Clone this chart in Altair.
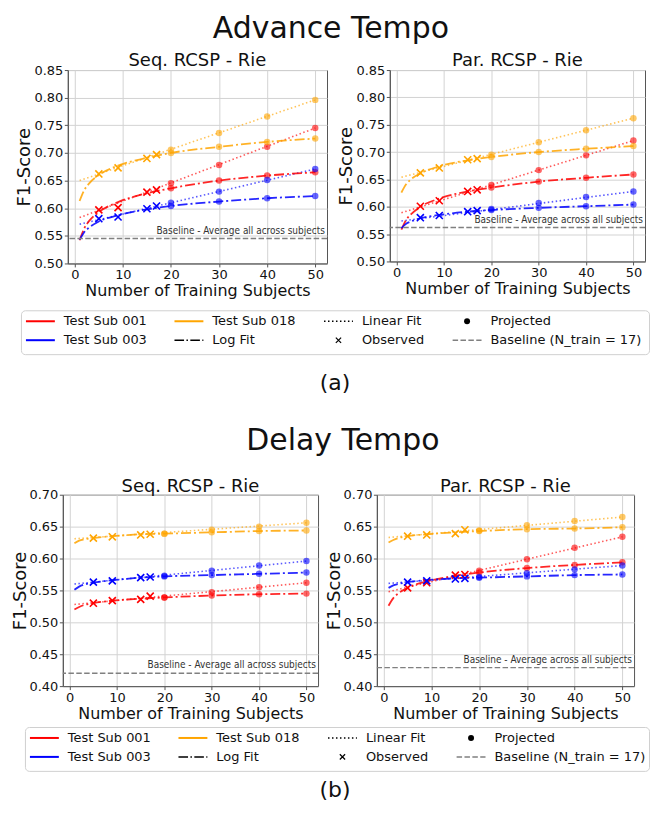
import altair as alt
import pandas as pd

FONT = "DejaVu Sans"
SMALL_FONT = "DejaVu Sans Condensed, DejaVu Sans"

SUB_IDS = ["001", "003", "018"]
SUBJECTS = ["Test Sub 001", "Test Sub 003", "Test Sub 018"]
COLORS = ["#ff0000", "#0000ff", "#ffa500"]

X_OBS = [5, 9, 15, 17]
X_PROJ = [20, 30, 40, 50]
X_LIN = [1, 50]
X_LOG = [1, 2, 3, 5, 9, 15, 20, 30, 40, 50]
X_TICKS = [0, 10, 20, 30, 40, 50]

# ---------------- Advance Tempo, Seq. RCSP - Rie ----------------
AS_OBS = {"001": [0.597, 0.601, 0.629, 0.633],
          "003": [0.581, 0.584, 0.599, 0.604],
          "018": [0.662, 0.673, 0.690, 0.697]}
AS_LIN = {"001": [0.583, 0.745], "003": [0.571, 0.671], "018": [0.650, 0.796]}
AS_LINPROJ = {"001": [0.645, 0.678, 0.711, 0.745],
              "003": [0.610, 0.630, 0.651, 0.671],
              "018": [0.706, 0.736, 0.766, 0.796]}
AS_LOG = {"001": [0.542, 0.564, 0.577, 0.593, 0.611, 0.627, 0.636, 0.650, 0.659, 0.665],
          "003": [0.543, 0.557, 0.565, 0.576, 0.587, 0.598, 0.604, 0.612, 0.618, 0.622],
          "018": [0.613, 0.633, 0.645, 0.660, 0.677, 0.691, 0.700, 0.711, 0.720, 0.726]}
AS_BASE = 0.545

# ---------------- Advance Tempo, Par. RCSP - Rie ----------------
AP_OBS = {"001": [0.601, 0.611, 0.628, 0.631],
          "003": [0.580, 0.584, 0.591, 0.593],
          "018": [0.662, 0.671, 0.686, 0.688]}
AP_LIN = {"001": [0.589, 0.721], "003": [0.574, 0.628], "018": [0.654, 0.762]}
AP_LINPROJ = {"001": [0.640, 0.667, 0.694, 0.721],
              "003": [0.596, 0.607, 0.618, 0.628],
              "018": [0.695, 0.718, 0.740, 0.762]}
AP_LOG = {"001": [0.558, 0.576, 0.586, 0.600, 0.615, 0.628, 0.635, 0.646, 0.653, 0.659],
          "003": [0.561, 0.569, 0.573, 0.579, 0.585, 0.591, 0.594, 0.598, 0.601, 0.604],
          "018": [0.626, 0.641, 0.650, 0.661, 0.674, 0.685, 0.691, 0.700, 0.706, 0.711]}
AP_BASE = 0.562

# ---------------- Delay Tempo, Seq. RCSP - Rie ----------------
DS_OBS = {"001": [0.530, 0.534, 0.536, 0.541],
          "003": [0.563, 0.565, 0.570, 0.571],
          "018": [0.632, 0.634, 0.637, 0.638]}
DS_LIN = {"001": [0.528, 0.562], "003": [0.560, 0.596], "018": [0.631, 0.656]}
DS_LINPROJ = {"001": [0.539, 0.547, 0.555, 0.562],
              "003": [0.573, 0.581, 0.589, 0.596],
              "018": [0.639, 0.645, 0.650, 0.656]}
DS_LOG = {"001": [0.520, 0.524, 0.527, 0.530, 0.534, 0.537, 0.539, 0.542, 0.544, 0.545],
          "003": [0.551, 0.556, 0.559, 0.562, 0.566, 0.570, 0.572, 0.574, 0.576, 0.578],
          "018": [0.624, 0.628, 0.630, 0.632, 0.635, 0.638, 0.639, 0.641, 0.643, 0.644]}
DS_BASE = 0.420

# ---------------- Delay Tempo, Par. RCSP - Rie ----------------
DP_OBS = {"001": [0.554, 0.562, 0.574, 0.575],
          "003": [0.563, 0.565, 0.568, 0.569],
          "018": [0.635, 0.637, 0.639, 0.645]}
DP_LIN = {"001": [0.548, 0.634], "003": [0.561, 0.589], "018": [0.633, 0.665]}
DP_LINPROJ = {"001": [0.581, 0.599, 0.617, 0.634],
              "003": [0.571, 0.577, 0.583, 0.589],
              "018": [0.644, 0.652, 0.659, 0.665]}
DP_LOG = {"001": [0.526, 0.538, 0.545, 0.554, 0.564, 0.573, 0.578, 0.585, 0.590, 0.594],
          "003": [0.554, 0.558, 0.560, 0.563, 0.566, 0.569, 0.570, 0.572, 0.574, 0.575],
          "018": [0.625, 0.629, 0.632, 0.635, 0.638, 0.641, 0.643, 0.646, 0.647, 0.649]}
DP_BASE = 0.429

Y_TICKS_A = [0.50, 0.55, 0.60, 0.65, 0.70, 0.75, 0.80, 0.85]
Y_TICKS_D = [0.40, 0.45, 0.50, 0.55, 0.60, 0.65, 0.70]

BASE_TEXT_1 = "Baseline - Average all across subjects"
BASE_TEXT_2 = "Baseline - Average across all subjects"

# legend items (column-major, 2 rows x 4 columns, like matplotlib ncol=4)
LEG_LABELS = ["Test Sub 001", "Test Sub 003", "Test Sub 018", "Log Fit",
              "Linear Fit", "Observed", "Projected", "Baseline (N_train = 17)"]
LEG_COL = [0, 0, 1, 1, 2, 2, 3, 3]
LEG_ROW = [0, 1, 0, 1, 0, 1, 0, 1]
LEG_SYM = ["solid", "solid", "solid", "dashdot", "dotted", "cross", "dot", "dashed"]
LEG_COLORS = ["#ff0000", "#0000ff", "#ffa500", "#000000", "#000000", "#000000", "#000000", "#808080"]
LEG_XPOS = [19.5, 168.5, 318.5, 447.5]

CROSS = "M-1,-1L1,1M-1,1L1,-1"
HLINE = "M-1,0L1,0"
FRAME = "#555555"


def panel_frame(obs, lin, linproj, log, base, base_text):
    rows = []
    for sid, name in zip(SUB_IDS, SUBJECTS):
        for x, y in zip(X_OBS, obs[sid]):
            rows.append({"subject": name, "kind": "obs", "x": x, "y": y, "label": ""})
        for x, y in zip(X_LIN, lin[sid]):
            rows.append({"subject": name, "kind": "lin", "x": x, "y": y, "label": ""})
        for x, y in zip(X_PROJ, linproj[sid]):
            rows.append({"subject": name, "kind": "proj", "x": x, "y": y, "label": ""})
        for x, y in zip(X_LOG, log[sid]):
            rows.append({"subject": name, "kind": "log", "x": x, "y": y, "label": ""})
            if x in X_PROJ:
                rows.append({"subject": name, "kind": "proj", "x": x, "y": y, "label": ""})
    rows.append({"subject": SUBJECTS[0], "kind": "base", "x": 52.0, "y": base, "label": base_text})
    return pd.DataFrame(rows)


def make_panel(obs, lin, linproj, log, base, base_text, title, ydom, yticks, w, h, toff):
    df = panel_frame(obs, lin, linproj, log, base, base_text)
    color = alt.Color("subject:N", scale=alt.Scale(domain=SUBJECTS, range=COLORS), legend=None)
    xenc = alt.X("x:Q", scale=alt.Scale(domain=[-1.45, 52.45], nice=False, zero=False),
                 axis=alt.Axis(values=X_TICKS, title="Number of Training Subjects", format="d",
                               labelOverlap=False, labelFlush=False))
    yenc = alt.Y("y:Q", scale=alt.Scale(domain=ydom, nice=False, zero=False),
                 axis=alt.Axis(values=yticks, format=".2f", title="F1-Score",
                               labelOverlap=False, labelFlush=False))
    base_c = alt.Chart(df)
    lin_l = base_c.transform_filter("datum.kind == 'lin'").mark_line(
        strokeDash=[1.5, 2.5], strokeWidth=1.6, opacity=0.65).encode(
        x=xenc, y=yenc, color=color, detail="subject:N")
    log_l = base_c.transform_filter("datum.kind == 'log'").mark_line(
        strokeDash=[10, 3, 2, 3], strokeWidth=1.8, opacity=0.85, interpolate="monotone").encode(
        x=xenc, y=yenc, color=color, detail="subject:N")
    proj_p = base_c.transform_filter("datum.kind == 'proj'").mark_circle(
        size=42, opacity=0.6).encode(x=xenc, y=yenc, color=color)
    obs_p = base_c.transform_filter("datum.kind == 'obs'").mark_point(
        shape=CROSS, size=50, strokeWidth=1.6, filled=False, opacity=1).encode(
        x=xenc, y=yenc, color=color)
    rule = base_c.transform_filter("datum.kind == 'base'").mark_rule(
        color="#808080", strokeDash=[5.5, 2.4], strokeWidth=1.5).encode(y=yenc)
    txt = base_c.transform_filter("datum.kind == 'base'").mark_text(
        align="right", baseline="bottom", dy=-3, fontSize=10,
        font=SMALL_FONT, color="#333333").encode(x=xenc, y=yenc, text="label:N")
    return alt.layer(lin_l, log_l, proj_p, obs_p, rule, txt).properties(
        width=w, height=h,
        title=alt.Title(title, fontSize=18, font=FONT, fontWeight="normal", offset=toff),
        view=alt.ViewBackground(stroke=FRAME, strokeWidth=1))


def spacer(w, h):
    return alt.Chart(pd.DataFrame({"s": [0]})).mark_point(opacity=0, size=1).properties(
        width=w, height=h, view=alt.ViewBackground(stroke="transparent"))


def make_legend(caption, w, cap_off, cap_dx):
    df = pd.DataFrame({"label": LEG_LABELS, "col": LEG_COL, "row": LEG_ROW, "sym": LEG_SYM})
    x = alt.X("col:Q", scale=alt.Scale(domain=[0, 1, 2, 3], range=LEG_XPOS), axis=None)
    y = alt.Y("row:Q", scale=alt.Scale(domain=[0, 1], range=[11, 30]), axis=None)
    stroke = alt.Stroke("label:N", scale=alt.Scale(domain=LEG_LABELS, range=LEG_COLORS), legend=None)
    b = alt.Chart(df)
    solid = b.transform_filter("datum.sym == 'solid'").mark_point(
        shape=HLINE, size=841, strokeWidth=2, filled=False, opacity=1).encode(x=x, y=y, stroke=stroke)
    dashdot = b.transform_filter("datum.sym == 'dashdot'").mark_point(
        shape=HLINE, size=841, strokeWidth=1.5, filled=False, opacity=1,
        strokeDash=[9.6, 2.4, 1.5, 2.4]).encode(x=x, y=y, stroke=stroke)
    dotted = b.transform_filter("datum.sym == 'dotted'").mark_point(
        shape=HLINE, size=841, strokeWidth=1.5, filled=False, opacity=1,
        strokeDash=[1.5, 2.5]).encode(x=x, y=y, stroke=stroke)
    dashed = b.transform_filter("datum.sym == 'dashed'").mark_point(
        shape=HLINE, size=841, strokeWidth=1.5, filled=False, opacity=1,
        strokeDash=[5.5, 2.4]).encode(x=x, y=y, stroke=stroke)
    cross = b.transform_filter("datum.sym == 'cross'").mark_point(
        shape=CROSS, size=28, strokeWidth=1.2, filled=False, opacity=1).encode(
        x=x, y=y, stroke=stroke)
    dot = b.transform_filter("datum.sym == 'dot'").mark_circle(
        size=36, opacity=1, color="#000000").encode(x=x, y=y)
    text = b.mark_text(align="left", baseline="middle", dx=23.5, fontSize=13, font=FONT,
                       color="#111111").encode(x=x, y=y, text="label:N")
    return alt.layer(solid, dashdot, dotted, dashed, cross, dot, text).properties(
        width=w, height=44,
        title=alt.Title(caption, orient="bottom", fontSize=22, font=FONT, fontWeight="normal",
                        offset=cap_off, dx=cap_dx),
        view=alt.ViewBackground(stroke="#d0d0d0", strokeWidth=1, cornerRadius=4))


tl = make_panel(AS_OBS, AS_LIN, AS_LINPROJ, AS_LOG, AS_BASE, BASE_TEXT_1, "Seq. RCSP - Rie",
                [0.50, 0.85], Y_TICKS_A, 260, 194, -5.5)
tr = make_panel(AP_OBS, AP_LIN, AP_LINPROJ, AP_LOG, AP_BASE, BASE_TEXT_2, "Par. RCSP - Rie",
                [0.50, 0.85], Y_TICKS_A, 256, 192, -5.5)
bl = make_panel(DS_OBS, DS_LIN, DS_LINPROJ, DS_LOG, DS_BASE, BASE_TEXT_1, "Seq. RCSP - Rie",
                [0.40, 0.70], Y_TICKS_D, 256, 192, -7)
br = make_panel(DP_OBS, DP_LIN, DP_LINPROJ, DP_LOG, DP_BASE, BASE_TEXT_2, "Par. RCSP - Rie",
                [0.40, 0.70], Y_TICKS_D, 258, 192, -7)

block_a = alt.vconcat(
    alt.hconcat(
        spacer(6, 1),
        alt.hconcat(tl, tr, spacing=8,
                    title=alt.Title("Advance Tempo", fontSize=30, font=FONT, fontWeight="normal",
                                    offset=7.5, dx=0)),
        spacing=0),
    alt.hconcat(spacer(11, 1), make_legend("(a)", 630, 19, 0), spacing=0),
    spacing=10,
)
block_b = alt.vconcat(
    alt.hconcat(
        spacer(1, 1),
        alt.hconcat(bl, br, spacing=4,
                    title=alt.Title("Delay Tempo", fontSize=30, font=FONT, fontWeight="normal",
                                    offset=21.5, dx=20)),
        spacing=0),
    alt.hconcat(spacer(15, 1), make_legend("(b)", 626, 9, -2), spacing=0),
    spacing=4,
)

chart = alt.vconcat(block_a, block_b, spacing=31).properties(
    padding={"left": -1, "top": 4, "right": 0, "bottom": 0}
).configure_view(
    stroke="transparent"
).configure_axis(
    labelFont=FONT, labelFontSize=13, labelColor="#111111",
    titleFont=FONT, titleFontWeight="normal", titleColor="#111111",
    gridColor="#d3d3d3", gridWidth=1, domainColor=FRAME, tickColor=FRAME,
    tickSize=3.5, labelPadding=1.5, labelOverlap=False,
).configure_axisX(
    titleFontSize=16, titlePadding=1,
).configure_axisY(
    titleFontSize=18, titlePadding=0,
).configure_title(
    font=FONT, fontWeight="normal", color="#111111", anchor="middle",
)

chart.save("out.html", embed_options={"renderer": "svg", "actions": False})
